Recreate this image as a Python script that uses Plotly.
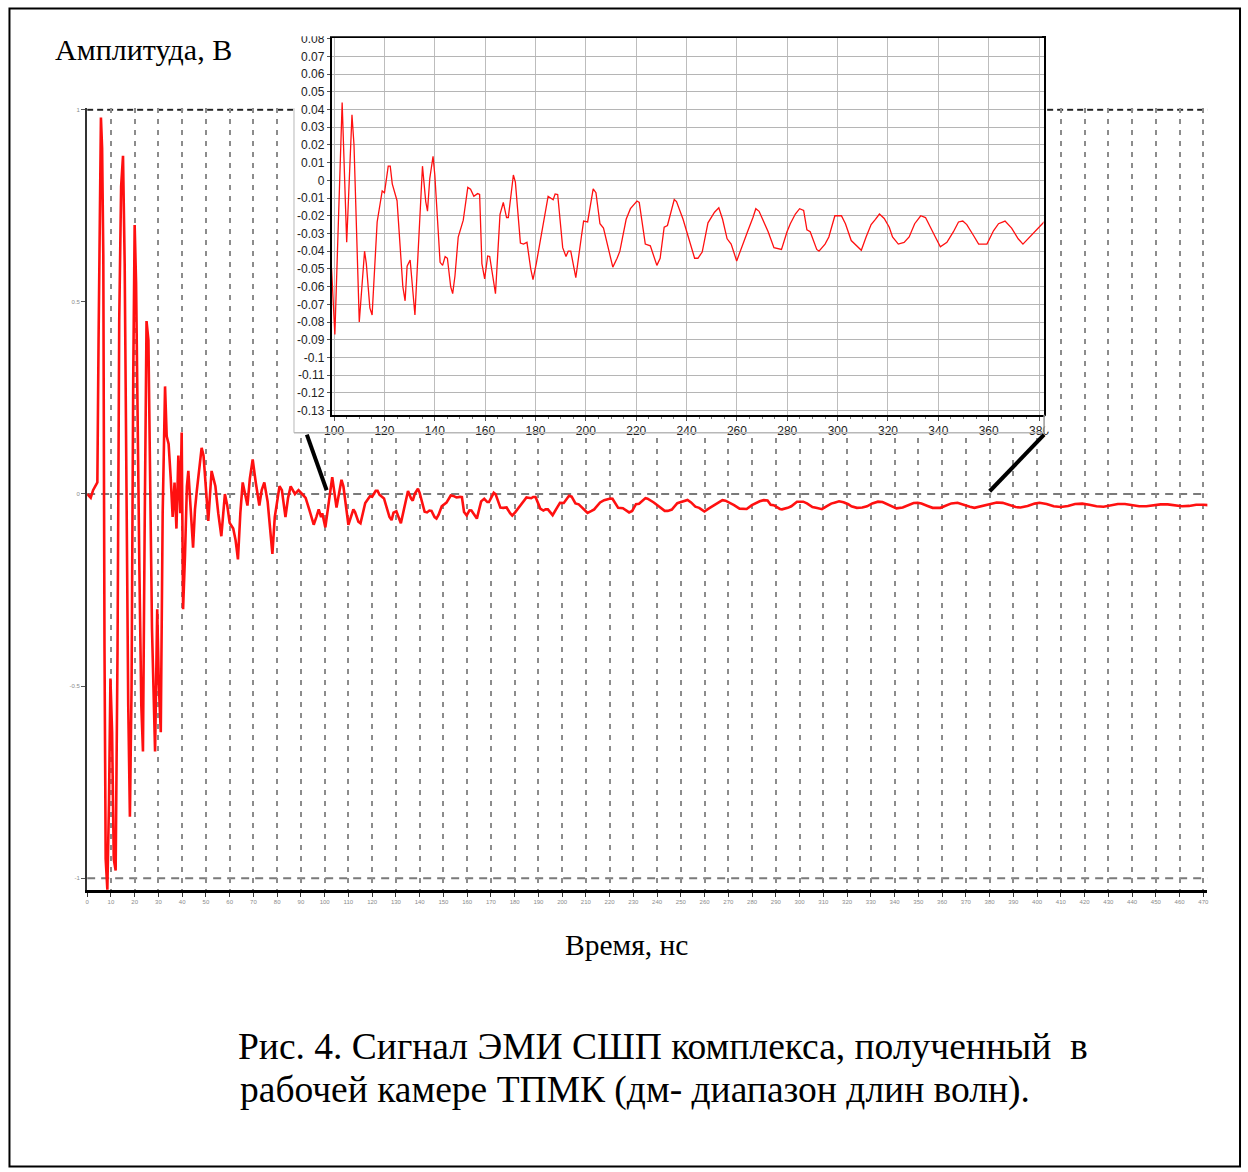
import plotly.graph_objects as go

W, H = 1248, 1172


def fx(x):
    return x / W


def fy(y):
    return 1 - y / H


# ---------------- data ----------------
# 0 .. 99 ns : strong initial pulse (main chart)
early_t = [0.0, 1.5, 2.5, 3.5, 4.3, 4.8, 5.3, 5.8, 6.3, 6.8, 7.3, 7.8, 8.5, 9.2, 9.8,
           10.5, 11.2, 12.0, 12.8, 13.5, 14.3, 15.1, 15.8, 16.5, 17.3, 18.0, 18.7,
           19.4, 20.0, 20.6, 21.3, 22.0, 22.8, 23.5, 24.2, 25.0, 25.8, 26.5, 27.3,
           28.6, 29.5, 30.2, 31.0, 31.8, 32.8, 33.5, 34.3, 35.2, 36.0, 36.8, 37.6,
           38.4, 39.2, 39.8, 40.4, 41.2, 42.0, 42.6, 43.3, 44.0, 44.6, 45.4, 46.2,
           47.0, 48.2, 49.0, 50.0, 51.0, 52.4, 54.0, 55.2, 56.5, 58.0, 59.0, 60.0,
           61.5, 62.5, 63.5, 64.5, 65.5, 66.5, 67.5, 68.5, 69.7, 71.0, 72.5, 73.5,
           74.6, 76.0, 77.0, 78.0, 79.0, 80.0, 81.0, 82.0, 83.5, 84.6, 85.7, 87.5,
           89.0, 90.5, 92.0, 93.5, 95.4, 96.5, 97.5, 98.5, 99.0]
early_v = [0.0, -0.01, 0.01, 0.02, 0.03, 0.40, 0.75, 0.98, 0.90, 0.62, -0.40, -0.95,
           -1.03, -0.80, -0.48, -0.62, -0.95, -0.98, -0.40, 0.45, 0.80, 0.88, 0.60,
           0.05, -0.55, -0.84, -0.50, 0.30, 0.70, 0.55, 0.10, -0.20, -0.55, -0.67,
           -0.10, 0.45, 0.40, 0.05, -0.35, -0.67, -0.30, -0.50, -0.62, -0.05, 0.28,
           0.15, 0.13, 0.04, -0.06, 0.03, -0.09, 0.10, -0.05, 0.16, -0.30, -0.16,
           0.02, 0.06, -0.03, -0.08, -0.14, -0.04, 0.01, 0.06, 0.12, 0.10, 0.02,
           -0.07, 0.06, 0.02, -0.05, -0.11, 0.00, -0.03, -0.075, -0.09, -0.12,
           -0.17, -0.05, 0.03, 0.00, -0.03, 0.04, 0.09, 0.03, -0.03, 0.01, 0.03,
           -0.02, -0.08, -0.156, -0.06, -0.02, 0.02, 0.01, -0.06, -0.01, 0.02, 0.00,
           0.01, 0.00, -0.01, -0.04, -0.08, -0.06, -0.04, -0.06, -0.05]

# 100 .. 382 ns : damped ringing
mid_t = [100.3, 103.2, 105.0, 107.1, 107.9, 110.0, 112.1, 112.8, 114.2, 115.1, 117.1,
         119.1, 120.0, 121.5, 122.3, 123.1, 125.0, 127.3, 128.2, 129.0, 130.2, 132.1,
         135.1, 136.4, 137.1, 138.0, 139.3, 140.0, 142.1, 143.1, 144.1, 145.0, 146.3,
         147.1, 148.0, 149.3, 151.3, 153.1, 154.2, 155.5, 157.0, 157.8, 158.7, 159.8,
         161.0, 161.8, 164.1, 165.9, 167.2, 168.5, 169.2, 171.2, 172.0, 174.0, 175.2,
         176.6, 178.1, 179.0, 180.3, 182.3, 185.0, 187.0, 187.8, 188.8, 190.8, 192.1,
         193.0, 194.0, 196.0, 198.2, 199.1, 200.7, 202.9, 204.0, 205.6, 207.0, 208.5,
         210.7, 212.4, 213.5, 216.0, 217.7, 220.3, 221.2, 223.6, 225.6, 228.2, 229.5,
         231.1, 232.4, 235.1, 236.0, 238.6, 240.6, 243.2, 244.5, 246.2, 248.5, 251.1,
         252.8, 254.3, 256.1, 257.7, 259.9, 262.0, 264.2, 266.4, 267.5, 268.8, 270.3,
         272.4, 274.7, 277.7, 279.9, 281.2, 283.2, 284.9, 286.5, 287.8, 289.1, 291.7,
         292.6, 295.0, 296.5, 298.9, 301.5, 303.1, 305.4, 307.4, 309.4, 311.3, 313.3,
         315.0, 316.6, 318.5, 320.5, 321.8, 324.1, 326.4, 328.4, 330.6, 333.0, 334.9,
         337.5, 338.8, 340.8, 343.4, 346.0, 348.0, 349.7, 351.3, 353.9, 356.0, 359.3,
         361.9, 363.9, 366.5, 369.1, 371.7, 373.6, 376.3, 378.3, 381.7]
mid_v = [-0.087, 0.044, -0.035, 0.037, 0.020, -0.080, -0.040, -0.047, -0.072, -0.076,
         -0.0235, -0.006, -0.007, 0.008, 0.008, -0.002, -0.0115, -0.060, -0.068,
         -0.0485, -0.045, -0.076, 0.008, -0.012, -0.0174, 0.001, 0.0136, 0.003,
         -0.0463, -0.048, -0.043, -0.044, -0.060, -0.064, -0.054, -0.032, -0.0225,
         -0.004, -0.005, -0.009, -0.0075, -0.008, -0.047, -0.0556, -0.0427, -0.043,
         -0.064, -0.0192, -0.0125, -0.021, -0.021, 0.003, -0.001, -0.0354, -0.036,
         -0.035, -0.050, -0.056, -0.047, -0.031, -0.009, -0.011, -0.0077, -0.008,
         -0.038, -0.043, -0.040, -0.040, -0.055, -0.032, -0.023, -0.0235, -0.0048,
         -0.007, -0.0245, -0.027, -0.036, -0.049, -0.044, -0.040, -0.022, -0.016,
         -0.0117, -0.0125, -0.036, -0.037, -0.048, -0.044, -0.0265, -0.0255, -0.0108,
         -0.012, -0.022, -0.032, -0.044, -0.044, -0.0405, -0.024, -0.018, -0.0155,
         -0.022, -0.033, -0.036, -0.0455, -0.037, -0.029, -0.0208, -0.016, -0.0175,
         -0.022, -0.029, -0.038, -0.039, -0.029, -0.0245, -0.019, -0.016, -0.017,
         -0.028, -0.029, -0.039, -0.040, -0.036, -0.032, -0.020, -0.020, -0.0245,
         -0.034, -0.0366, -0.0395, -0.032, -0.025, -0.022, -0.019, -0.0215, -0.0265,
         -0.032, -0.036, -0.035, -0.032, -0.0245, -0.020, -0.021, -0.029, -0.032,
         -0.0375, -0.035, -0.029, -0.0235, -0.023, -0.025, -0.031, -0.036, -0.036,
         -0.0285, -0.0245, -0.023, -0.027, -0.033, -0.036, -0.032, -0.0285, -0.0235]

# 383 .. 472 ns : residual ringing (main chart only)
tail_t = [383.0, 385.5, 388.0, 391.0, 393.0, 396.0, 399.0, 401.0, 404.0, 407.0, 410.0,
          413.0, 416.0, 419.0, 422.0, 425.0, 428.0, 431.0, 434.0, 437.0, 440.0, 443.0,
          446.0, 449.0, 452.0, 455.0, 458.0, 461.0, 464.0, 467.0, 470.0, 472.0]
tail_v = [-0.022, -0.023, -0.028, -0.034, -0.035, -0.031, -0.025, -0.023, -0.026,
          -0.032, -0.034, -0.031, -0.026, -0.025, -0.028, -0.032, -0.033, -0.030,
          -0.026, -0.026, -0.029, -0.032, -0.032, -0.029, -0.027, -0.027, -0.030,
          -0.032, -0.031, -0.028, -0.028, -0.029]

time_ns = early_t + mid_t + tail_t
amp_v = early_v + mid_v + tail_v

main_x_ticks = list(range(0, 480, 10))
main_y_ticks = [1, 0.5, 0, -0.5, -1]
main_y_labels = ["1", "0.5", "0", "-0.5", "-1"]
ref_levels = [1, 0, -1]

inset_x_ticks = [100, 120, 140, 160, 180, 200, 220, 240, 260, 280, 300, 320, 340, 360, 380]
inset_y_ticks = [0.08, 0.07, 0.06, 0.05, 0.04, 0.03, 0.02, 0.01, 0.0, -0.01, -0.02,
                 -0.03, -0.04, -0.05, -0.06, -0.07, -0.08, -0.09, -0.1, -0.11, -0.12,
                 -0.13]
inset_y_labels = ["0.08", "0.07", "0.06", "0.05", "0.04", "0.03", "0.02", "0.01", "0",
                  "-0.01", "-0.02", "-0.03", "-0.04", "-0.05", "-0.06", "-0.07",
                  "-0.08", "-0.09", "-0.1", "-0.11", "-0.12", "-0.13"]

RED = "#ff1010"
SERIF = "Liberation Serif, Times New Roman, serif"
SANS = "Liberation Sans, Arial, sans-serif"

fig = go.Figure()

# main signal
fig.add_trace(go.Scatter(x=time_ns, y=amp_v, mode="lines",
                         line=dict(color=RED, width=2.6),
                         xaxis="x", yaxis="y", showlegend=False, hoverinfo="skip"))
# white cover subplot (inset frame background)
fig.add_trace(go.Scatter(x=[], y=[], mode="lines", xaxis="x2", yaxis="y2",
                         showlegend=False, hoverinfo="skip"))
# inset signal
fig.add_trace(go.Scatter(x=time_ns, y=amp_v, mode="lines",
                         line=dict(color=RED, width=1.3),
                         xaxis="x3", yaxis="y3", showlegend=False, hoverinfo="skip"))

fig.update_layout(
    width=W, height=H,
    margin=dict(l=0, r=0, t=0, b=0),
    paper_bgcolor="white",
    plot_bgcolor="white",
    showlegend=False,
    xaxis=dict(
        domain=[fx(81), fx(1213)], range=[0, 471.7], anchor="y",
        tickmode="array", tickvals=main_x_ticks,
        showgrid=True, gridcolor="#8c8c8c", gridwidth=2, griddash="5px,6px",
        showline=True, linecolor="black", linewidth=3,
        ticks="outside", ticklen=4, tickcolor="#333", tickwidth=1,
        tickfont=dict(size=6, color="#8a8a8a", family=SANS),
        zeroline=False,
    ),
    yaxis=dict(
        domain=[fy(891), fy(103)], range=[-1.031, 1.004], anchor="x",
        tickmode="array", tickvals=main_y_ticks, ticktext=main_y_labels,
        showgrid=False, showline=True, linecolor="#333", linewidth=2,
        ticks="outside", ticklen=4, tickcolor="#555",
        tickfont=dict(size=6, color="#8a8a8a", family=SANS),
        zeroline=False,
    ),
    xaxis2=dict(domain=[fx(290), fx(1048)], range=[0, 1], anchor="y2",
                showgrid=False, zeroline=False, showticklabels=False,
                showline=False, ticks=""),
    yaxis2=dict(domain=[fy(430), fy(30)], range=[0, 1], anchor="x2",
                showgrid=False, zeroline=False, showticklabels=False,
                showline=False, ticks=""),
    xaxis3=dict(
        domain=[fx(328), fx(1047.5)], range=[99, 381.8], anchor="y3",
        tickmode="array", tickvals=inset_x_ticks,
        showgrid=True, gridcolor="#bdbdbd", gridwidth=1,
        showline=True, linecolor="black", linewidth=1.5, mirror=True,
        ticks="outside", ticklen=4, tickcolor="#555",
        minor=dict(tickmode="linear", tick0=0, dtick=5, ticks="outside",
                   ticklen=2, tickcolor="#777", showgrid=False),
        tickfont=dict(size=12, color="#222", family=SANS),
        zeroline=False,
    ),
    yaxis3=dict(
        domain=[fy(412), fy(32)], range=[-0.1324, 0.0805], anchor="x3",
        tickmode="array", tickvals=inset_y_ticks, ticktext=inset_y_labels,
        showgrid=True, gridcolor="#b5b5b5", gridwidth=1,
        showline=True, linecolor="black", linewidth=1.5, mirror=True,
        ticks="outside", ticklen=3, tickcolor="#555",
        tickfont=dict(size=12, color="#222", family=SANS),
        zeroline=False,
    ),
)

shapes = []
# reference dashed levels of the main chart
level_style = {1: ("#222", "6px,4px"), 0: ("#7a7a7a", "8px,6px"), -1: ("#7a7a7a", "8px,6px")}
for lv in ref_levels:
    col, dash = level_style[lv]
    shapes.append(dict(type="line", xref="x", yref="y", x0=0, x1=471.7, y0=lv, y1=lv,
                       line=dict(color=col, width=2, dash=dash), layer="below"))

# inset frame edges (gray)
shapes.append(dict(type="line", xref="paper", yref="paper", x0=fx(290), x1=fx(290),
                   y0=fy(103), y1=fy(430), line=dict(color="#cfcfcf", width=1.5),
                   layer="above"))
shapes.append(dict(type="line", xref="paper", yref="paper", x0=fx(290), x1=fx(1048),
                   y0=fy(430), y1=fy(430), line=dict(color="#b8b8b8", width=1.5),
                   layer="above"))
shapes.append(dict(type="line", xref="paper", yref="paper", x0=fx(1048), x1=fx(1048),
                   y0=fy(412), y1=fy(430), line=dict(color="#9a9a9a", width=1.5),
                   layer="above"))
# clip text running out of the inset frame
shapes.append(dict(type="rect", xref="paper", yref="paper", x0=fx(292), x1=fx(1046),
                   y0=fy(6), y1=fy(30.5), fillcolor="white", line=dict(width=0),
                   layer="above"))
shapes.append(dict(type="rect", xref="paper", yref="paper", x0=fx(1049), x1=fx(1062),
                   y0=fy(413), y1=fy(429), fillcolor="white", line=dict(width=0),
                   layer="above"))
# connectors from the inset to the main chart
shapes.append(dict(type="line", xref="paper", yref="paper", x0=fx(303), y0=fy(432),
                   x1=fx(323), y1=fy(488), line=dict(color="black", width=4),
                   layer="above"))
shapes.append(dict(type="line", xref="paper", yref="paper", x0=fx(1048), y0=fy(432),
                   x1=fx(993), y1=fy(489), line=dict(color="black", width=4),
                   layer="above"))
# outer frame
shapes.append(dict(type="rect", xref="paper", yref="paper", x0=fx(2.5), x1=fx(1246),
                   y0=fy(2.5), y1=fy(1169.5), line=dict(color="black", width=2),
                   fillcolor="rgba(0,0,0,0)", layer="above"))
fig.update_layout(shapes=shapes)

annotations = [
    dict(text="Амплитуда, В", x=fx(46), y=fy(44), xanchor="left", yanchor="middle",
         font=dict(family=SERIF, size=30, color="black")),
    dict(text="Время, нс", x=fx(626), y=fy(946), xanchor="center", yanchor="middle",
         font=dict(family=SERIF, size=29.5, color="black")),
    dict(text="Рис. 4. Сигнал ЭМИ СШП комплекса, полученный\u00a0 в", x=fx(231),
         y=fy(1049), xanchor="left", yanchor="middle",
         font=dict(family=SERIF, size=37.5, color="black")),
    dict(text="рабочей камере ТПМК (дм- диапазон длин волн).", x=fx(233), y=fy(1092),
         xanchor="left", yanchor="middle",
         font=dict(family=SERIF, size=37.5, color="black")),
]
for a in annotations:
    a.update(xref="paper", yref="paper", showarrow=False)
fig.update_layout(annotations=annotations)

fig.write_html("out.html")
